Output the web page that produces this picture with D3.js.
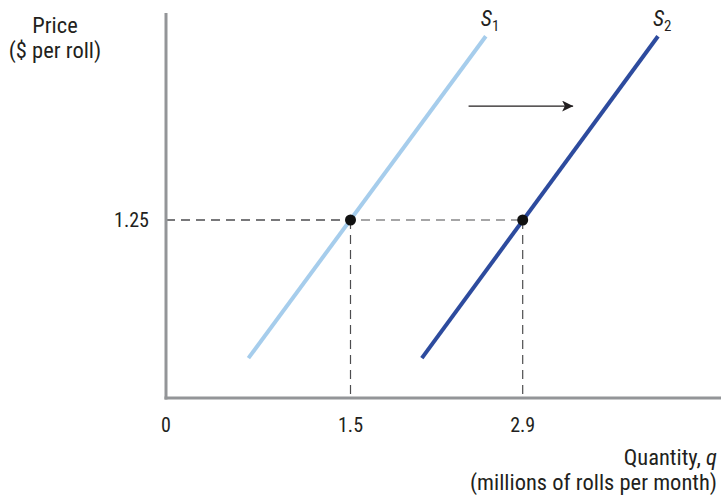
<!DOCTYPE html>
<html>
<head>
<meta charset="utf-8">
<script src="https://cdn.jsdelivr.net/npm/d3@7"></script>
<style>
  html, body { margin: 0; padding: 0; background: #fff; }
  svg text { font-family: "Liberation Sans Narrow", "Arial Narrow", "Roboto Condensed", "Liberation Sans", sans-serif; fill: #231f20; }
</style>
</head>
<body>
<svg id="chart" width="721" height="496"></svg>
<script>
// Supply curves before and after the shift (quantity in millions, price in $)
const supply1 = [{q: 0.67, p: 0.28}, {q: 2.60, p: 2.54}];
const supply2 = [{q: 2.08, p: 0.28}, {q: 4.00, p: 2.54}];
const equilibria = [{q: 1.5, p: 1.25}, {q: 2.9, p: 1.25}];
const xTicks = [0, 1.5, 2.9];
const yTicks = [1.25];
const shiftArrow = [{q: 2.46, p: 2.05}, {q: 3.31, p: 2.05}];

const svg = d3.select("#chart");
const x = d3.scaleLinear().domain([0, 4.5]).range([166, 166 + 4.5 * 123]);
const y = d3.scaleLinear().domain([0, 2.7]).range([398, 398 - 2.7 * 142.4]);

const axisColor = "#939598";
const dashColor = "#4d4d4f";

// Dashed guides from equilibrium points to the axes
equilibria.forEach(d => {
  svg.append("line")
    .attr("x1", x(0)).attr("x2", x(d.q))
    .attr("y1", y(d.p)).attr("y2", y(d.p))
    .attr("stroke", dashColor).attr("stroke-width", 1.2)
    .attr("stroke-dasharray", "9,6");
  svg.append("line")
    .attr("x1", x(d.q)).attr("x2", x(d.q))
    .attr("y1", y(d.p)).attr("y2", y(0))
    .attr("stroke", dashColor).attr("stroke-width", 1.2)
    .attr("stroke-dasharray", "9,6");
});

// Axes
svg.append("line")
  .attr("x1", x(0)).attr("x2", x(0))
  .attr("y1", 13).attr("y2", y(0) + 1.5)
  .attr("stroke", axisColor).attr("stroke-width", 3);
svg.append("line")
  .attr("x1", x(0) - 1.5).attr("x2", 721)
  .attr("y1", y(0)).attr("y2", y(0))
  .attr("stroke", axisColor).attr("stroke-width", 3);

// Tick labels
svg.selectAll(".xt").data(xTicks).join("text")
  .attr("x", d => x(d)).attr("y", 432)
  .attr("text-anchor", "middle").attr("font-size", 20)
  .text(d => d === 0 ? "0" : d.toString());
svg.selectAll(".yt").data(yTicks).join("text")
  .attr("x", 149).attr("y", y(yTicks[0]) + 7)
  .attr("text-anchor", "end").attr("font-size", 20)
  .text(d => d.toFixed(2));

// Supply curves
const line = d3.line().x(d => x(d.q)).y(d => y(d.p));
svg.append("path").datum(supply1).attr("d", line)
  .attr("stroke", "#a6cdec").attr("stroke-width", 4).attr("fill", "none");
svg.append("path").datum(supply2).attr("d", line)
  .attr("stroke", "#2d4b9e").attr("stroke-width", 4).attr("fill", "none");

// Equilibrium points
svg.selectAll(".pt").data(equilibria).join("circle")
  .attr("cx", d => x(d.q)).attr("cy", d => y(d.p)).attr("r", 5.5)
  .attr("fill", "#111");

// Curve labels
function curveLabel(d, sub) {
  const t = svg.append("text")
    .attr("x", x(d.q) - 5).attr("y", y(d.p) - 10)
    .attr("font-size", 22);
  t.append("tspan").attr("font-style", "italic").text("S");
  t.append("tspan").attr("font-size", 15).attr("dy", 5).text(sub);
}
curveLabel(supply1[1], "1");
curveLabel(supply2[1], "2");

// Shift arrow
svg.append("defs").append("marker")
  .attr("id", "head").attr("viewBox", "0 0 10 10")
  .attr("refX", 10).attr("refY", 5)
  .attr("markerWidth", 11).attr("markerHeight", 11)
  .attr("markerUnits", "userSpaceOnUse")
  .attr("orient", "auto")
  .append("path").attr("d", "M0,0 L10,5 L0,10 L2.5,5 Z").attr("fill", "#231f20");
svg.append("line")
  .attr("x1", x(shiftArrow[0].q)).attr("x2", x(shiftArrow[1].q))
  .attr("y1", y(shiftArrow[0].p)).attr("y2", y(shiftArrow[1].p))
  .attr("stroke", "#231f20").attr("stroke-width", 1.4)
  .attr("marker-end", "url(#head)");

// Axis titles
svg.append("text").attr("x", 55).attr("y", 33)
  .attr("text-anchor", "middle").attr("font-size", 22.5).text("Price");
svg.append("text").attr("x", 55).attr("y", 58)
  .attr("text-anchor", "middle").attr("font-size", 22.5).text("($ per roll)");

const qt = svg.append("text").attr("x", 717).attr("y", 465)
  .attr("text-anchor", "end").attr("font-size", 22.5);
qt.append("tspan").text("Quantity, ");
qt.append("tspan").attr("font-style", "italic").text("q");
svg.append("text").attr("x", 717).attr("y", 490)
  .attr("text-anchor", "end").attr("font-size", 22.5).text("(millions of rolls per month)");
</script>
</body>
</html>
